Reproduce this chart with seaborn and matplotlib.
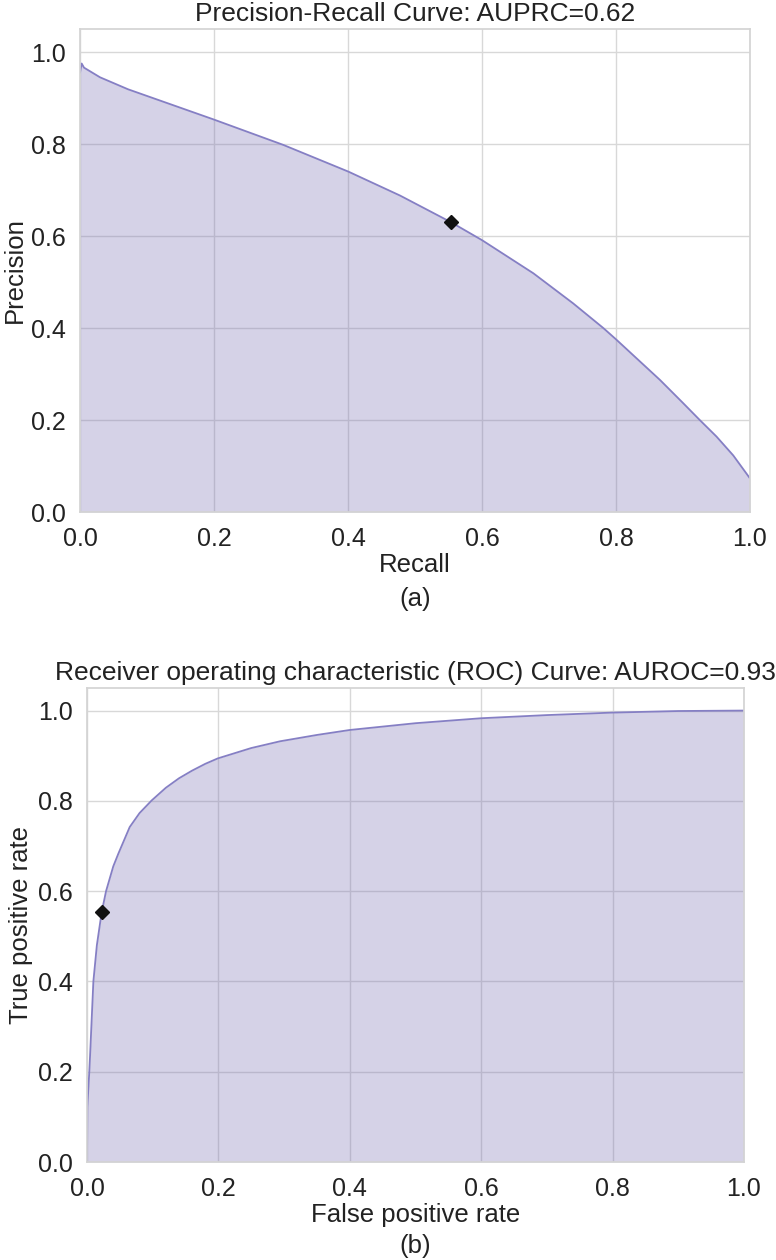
import matplotlib
matplotlib.use('Agg')
import matplotlib.pyplot as plt
import pandas as pd
import seaborn as sns

# precision-recall curve
recall = [0.0, 0.0025, 0.006, 0.0299, 0.0716, 0.199, 0.3035, 0.4005, 0.4776,
          0.5537, 0.6, 0.6766, 0.736, 0.781, 0.8, 0.8657, 0.9, 0.925, 0.95, 0.975, 1.0]
precision = [0.955, 0.975, 0.966, 0.945, 0.919, 0.8536, 0.798, 0.740, 0.688,
             0.630, 0.591, 0.519, 0.4536, 0.400, 0.3754, 0.287, 0.237, 0.200, 0.164, 0.123, 0.073]
pr_point = [0.5537, 0.630]
auprc = 0.62

# ROC curve
fpr = [0.0, 0.0005, 0.0035, 0.0046, 0.0097, 0.015, 0.0223, 0.029, 0.04, 0.0477, 0.065,
       0.08, 0.0985, 0.12, 0.14, 0.16, 0.18, 0.199, 0.25, 0.294, 0.35, 0.4, 0.5,
       0.6, 0.7, 0.8, 0.9, 1.0]
tpr = [0.0, 0.122, 0.2, 0.233, 0.4, 0.48, 0.553, 0.6, 0.655, 0.683, 0.742,
       0.773, 0.801, 0.829, 0.850, 0.867, 0.882, 0.894, 0.917, 0.932, 0.946, 0.957, 0.972,
       0.983, 0.990, 0.9955, 0.999, 1.0]
roc_point = [0.0223, 0.553]
auroc = 0.93

ticks = [0.0, 0.2, 0.4, 0.6, 0.8, 1.0]

sns.set_theme(style='whitegrid')
plt.rcParams['font.family'] = ['Liberation Sans', 'DejaVu Sans']
plt.rcParams['grid.color'] = '#d8d8d8'
plt.rcParams['axes.edgecolor'] = '#d4d4d4'
plt.rcParams['text.color'] = '#222222'
plt.rcParams['axes.labelcolor'] = '#222222'
plt.rcParams['xtick.color'] = '#222222'
plt.rcParams['ytick.color'] = '#222222'

fill_col = '#756bb1'
line_col = '#857fc4'

fig = plt.figure(figsize=(7.76, 12.6), dpi=100)
ax1 = fig.add_axes([80/776, 1-512/1260, 670/776, 483/1260])
ax2 = fig.add_axes([87/776, 1-1162/1260, 657/776, 474/1260])


def draw(ax, x, y, point, title, xlabel, ylabel):
    df = pd.DataFrame({'x': x, 'y': y})
    sns.lineplot(data=df, x='x', y='y', ax=ax, color=line_col, lw=1.3, sort=False)
    ax.fill_between(df['x'], df['y'], color=fill_col, alpha=0.3, lw=0)
    ax.plot(point[0], point[1], marker='D', color='#111111', markersize=7.5, ls='')
    ax.set_xlim(0, 1)
    ax.set_ylim(0, 1.05)
    ax.set_xticks(ticks)
    ax.set_yticks(ticks)
    ax.tick_params(labelsize=18, pad=10.5, length=0)
    ax.set_title(title, fontsize=19, pad=6)
    ax.set_xlabel(xlabel, fontsize=18.5, labelpad=2)
    ax.set_ylabel(ylabel, fontsize=18.5, labelpad=3)


draw(ax1, recall, precision, pr_point, f'Precision-Recall Curve: AUPRC={auprc}',
     'Recall', 'Precision')
draw(ax2, fpr, tpr, roc_point,
     f'Receiver operating characteristic (ROC) Curve: AUROC={auroc}',
     'False positive rate', 'True positive rate')

fig.text(415/776, 1-599/1260, '(a)', ha='center', va='center', fontsize=18.5)
fig.text(415/776, 1-1246/1260, '(b)', ha='center', va='center', fontsize=18.5)

fig.savefig('out.png', dpi=100)
